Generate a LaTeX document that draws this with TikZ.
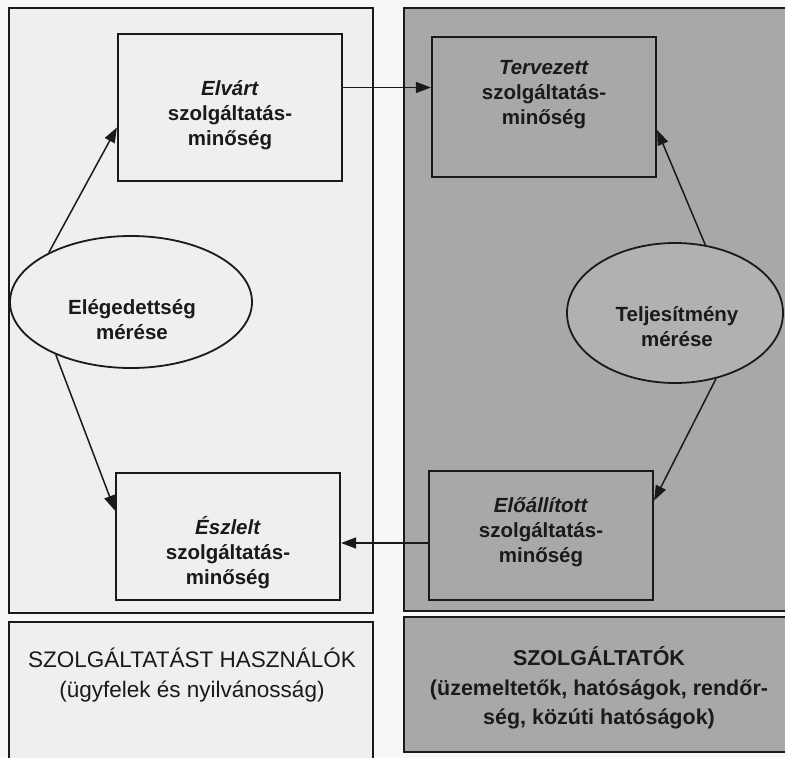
\documentclass[tikz,border=0pt]{standalone}
\usepackage{fontspec}
\setmainfont{Liberation Sans}
\usetikzlibrary{arrows.meta,shapes.geometric,calc}
\definecolor{lightpanel}{HTML}{EFEFEF}
\definecolor{darkpanel}{HTML}{A8A8A8}
\definecolor{ink}{HTML}{1A1A1A}
\definecolor{paper}{HTML}{F7F7F7}
\begin{document}
\begin{tikzpicture}[x=1pt,y=-1pt,
  panelline/.style={draw=ink,line width=1.7pt},
  qbox/.style={draw=ink,line width=2.2pt,rectangle,minimum width=224pt,inner sep=0pt},
  lightbox/.style={qbox,fill=lightpanel},
  darkbox/.style={qbox,fill=darkpanel},
  meas/.style={draw=ink,line width=1.8pt,ellipse,inner sep=0pt},
  boxtext/.style={align=center,text=ink,font=\fontsize{20.5}{25}\selectfont\bfseries,inner sep=0pt},
  bottomtext/.style={align=center,text=ink,inner sep=0pt},
  arr/.style={draw=ink,line width=1.5pt,-{Triangle[length=15pt,width=11pt]}}
]
\useasboundingbox[fill=paper] (0,0) rectangle (785,758);
% panels
\fill[lightpanel] (9,8) rectangle (373,613);
\draw[panelline] (9,8) rectangle (373,613);
\fill[lightpanel] (9,622) rectangle (373,758);
\draw[panelline] (9,758) -- (9,622) -- (373,622) -- (373,758);
\fill[darkpanel] (404,8) rectangle (785,611);
\draw[panelline] (785,8) -- (404,8) -- (404,611) -- (785,611);
\fill[darkpanel] (404,617) rectangle (785,752);
\draw[panelline] (785,617) -- (404,617) -- (404,752) -- (785,752);
% boxes
\node[lightbox,minimum height=147pt] (elv) at (230,107.5) {};
\node[darkbox,minimum height=140pt] (terv) at (544,107) {};
\node[lightbox,minimum height=127pt] (esz) at (228,536.5) {};
\node[darkbox,minimum height=129pt] (eloall) at (541,535.5) {};
\node[boxtext] (elvT) at (230,115) {\textit{Elvárt}\\szolgáltatás-\\minőség};
\node[boxtext] (tervT) at (544,95) {\textit{Tervezett}\\szolgáltatás-\\minőség};
\node[boxtext] (eszT) at (228,553) {\textit{Észlelt}\\szolgáltatás-\\minőség};
\node[boxtext] (eloallT) at (541,532) {\textit{Előállított}\\szolgáltatás-\\minőség};
% ellipses
\node[meas,fill=lightpanel,minimum width=242pt,minimum height=132pt] (sat) at (131,302) {};
\node[meas,fill=darkpanel!90!white,minimum width=216pt,minimum height=140pt] (perf) at (675,313) {};
\node[boxtext] (satT) at (132,320) {Elégedettség\\mérése};
\node[boxtext] (perfT) at (677,327) {Teljesítmény\\mérése};
% bottom labels
\node[bottomtext,font=\fontsize{22.5}{30}\selectfont] (users) at (192,675)
  {SZOLGÁLTATÁST HASZNÁLÓK\\(ügyfelek és nyilvánosság)};
\node[bottomtext,font=\fontsize{21.5}{29.5}\selectfont\bfseries] (providers) at (599,688)
  {SZOLGÁLTATÓK\\(üzemeltetők, hatóságok, rendőr-\\ség, közúti hatóságok)};
% connectors
\draw[arr] ([yshift=20pt]elv.east) -- ([yshift=20pt]elv.east -| terv.west);
\draw[arr] ([yshift=-7.5pt]eloall.west) -- ([yshift=-7.5pt]eloall.west -| esz.east);
\draw[arr] (sat.149) -- ([yshift=-20pt]elv.west);
\draw[arr] (sat.215) -- ([yshift=26pt]esz.west);
\draw[arr] (perf.66) -- ([yshift=-23pt]terv.east);
\draw[arr] (perf.302) -- ([yshift=35pt]eloall.east);
\end{tikzpicture}
\end{document}
